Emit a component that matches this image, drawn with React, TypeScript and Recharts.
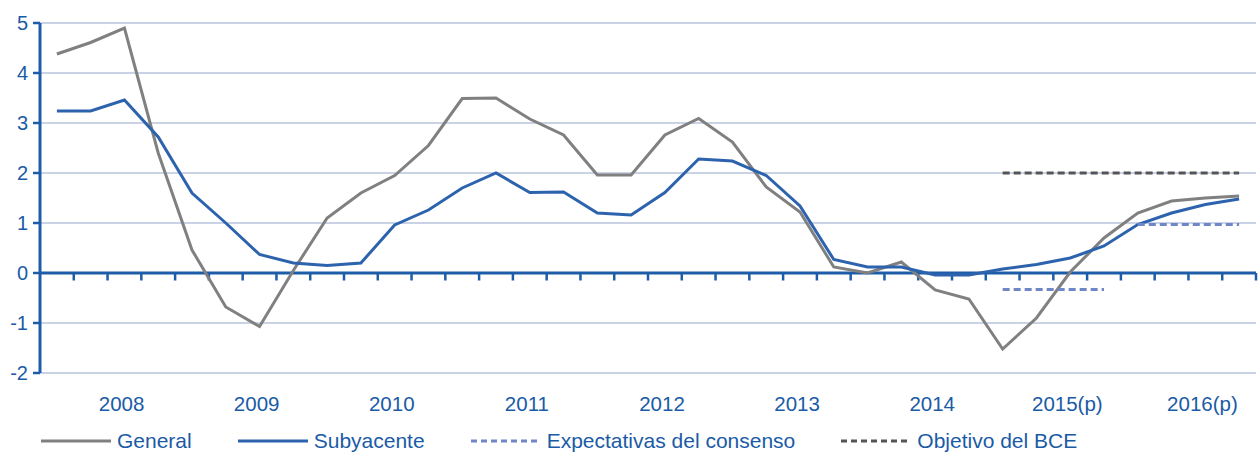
import React from 'react';
import { LineChart, Line, XAxis, YAxis, CartesianGrid, ReferenceLine } from 'recharts';

// Year labels (each year has four quarters)
const years = ['2008', '2009', '2010', '2011', '2012', '2013', '2014', '2015(p)', '2016(p)'];

// Inflación general, quarterly 2008Q1 - 2016Q4
const general = [
  4.38, 4.61, 4.9, 2.4,
  0.46, -0.68, -1.07, 0.05,
  1.1, 1.6, 1.95, 2.55,
  3.49, 3.5, 3.08, 2.76,
  1.96, 1.96, 2.76, 3.09,
  2.62, 1.72, 1.22, 0.12,
  0.0, 0.22, -0.34, -0.52,
  -1.52, -0.9, 0.02, 0.7,
  1.2, 1.44, 1.5, 1.54,
];

// Inflación subyacente
const subyacente = [
  3.24, 3.24, 3.46, 2.72,
  1.6, 1.0, 0.37, 0.2,
  0.15, 0.2, 0.96, 1.26,
  1.7, 2.0, 1.61, 1.62,
  1.2, 1.16, 1.61, 2.28,
  2.24, 1.95, 1.34, 0.27,
  0.12, 0.12, -0.04, -0.04,
  0.08, 0.17, 0.3, 0.54,
  0.97, 1.2, 1.37, 1.48,
];

// Expectativas del consenso (2015 and 2016, drawn as separate segments)
const consenso2015 = [
  null, null, null, null, null, null, null, null, null, null, null, null,
  null, null, null, null, null, null, null, null, null, null, null, null,
  null, null, null, null, -0.33, -0.33, -0.33, -0.33,
  null, null, null, null,
];
const consenso2016 = [
  null, null, null, null, null, null, null, null, null, null, null, null,
  null, null, null, null, null, null, null, null, null, null, null, null,
  null, null, null, null, null, null, null, null,
  0.97, 0.97, 0.97, 0.97,
];
// Objetivo del BCE
const objetivo = [
  null, null, null, null, null, null, null, null, null, null, null, null,
  null, null, null, null, null, null, null, null, null, null, null, null,
  null, null, null, null, 2, 2, 2, 2,
  2, 2, 2, 2,
];

const yTicks = [-2, -1, 0, 1, 2, 3, 4, 5];

const data = general.map((g, i) => ({
  q: i + 0.5,
  general: g,
  subyacente: subyacente[i],
  consenso2015: consenso2015[i],
  consenso2016: consenso2016[i],
  objetivo: objetivo[i],
}));

const quarterBounds = Array.from({ length: general.length }, (_, i) => i + 1);
const yearTicks = years.map((_, k) => k * 4 + 2);

const BLUE = '#1d5ca8';
const TEXT = '#1a5ba6';
const GREY = '#808080';
const LINE_BLUE = '#2d63ad';
const DASH_BLUE = '#6f87c7';
const DASH_GREY = '#555555';
const FONT = '"Liberation Sans", Arial, sans-serif';

const legendItems = [
  { name: 'General', color: GREY, dash: undefined as string | undefined },
  { name: 'Subyacente', color: LINE_BLUE, dash: undefined as string | undefined },
  { name: 'Expectativas del consenso', color: DASH_BLUE, dash: '6 4' },
  { name: 'Objetivo del BCE', color: DASH_GREY, dash: '6 4' },
];

const YearTick = (props: any) => {
  const { x, y, payload } = props;
  const idx = Math.floor(payload.value / 4);
  return (
    <text x={x + 14} y={y} dy="0.71em" textAnchor="middle" fill={TEXT} fontSize={20.5} fontFamily={FONT}>
      {years[idx]}
    </text>
  );
};

export default function App() {
  return (
    <div style={{ position: 'absolute', left: 0, top: 0, width: 1259, height: 453, background: '#fff' }}>
      <LineChart width={1259} height={453} data={data} margin={{ top: 23, right: 3, bottom: 0, left: 0 }}>
        <CartesianGrid vertical={false} stroke="#b9c3de" strokeWidth={1.3} />
        <XAxis
          dataKey="q"
          type="number"
          domain={[0, general.length]}
          ticks={yearTicks}
          interval={0}
          axisLine={false}
          tickLine={false}
          tickSize={0}
          tickMargin={23}
          height={80}
          tick={<YearTick />}
        />
        <YAxis
          domain={[-2, 5]}
          ticks={yTicks}
          interval={0}
          width={40}
          axisLine={{ stroke: BLUE, strokeWidth: 3 }}
          tickLine={{ stroke: BLUE, strokeWidth: 2.5 }}
          tickSize={7}
          tickMargin={5}
          tick={{ fill: TEXT, fontSize: 20, fontFamily: FONT }}
        />
        <ReferenceLine y={0} stroke={BLUE} strokeWidth={3} />
        {quarterBounds.map((b) => (
          <ReferenceLine
            key={b}
            segment={[{ x: b, y: 0 }, { x: b, y: -0.15 }]}
            stroke={BLUE}
            strokeWidth={2.5}
          />
        ))}
        <Line dataKey="general" stroke={GREY} strokeWidth={3} dot={false} isAnimationActive={false} />
        <Line dataKey="subyacente" stroke={LINE_BLUE} strokeWidth={3} dot={false} isAnimationActive={false} />
        <Line dataKey="consenso2015" stroke={DASH_BLUE} strokeWidth={3} strokeDasharray="7 4" dot={false} isAnimationActive={false} />
        <Line dataKey="consenso2016" stroke={DASH_BLUE} strokeWidth={3} strokeDasharray="7 4" dot={false} isAnimationActive={false} />
        <Line dataKey="objetivo" stroke={DASH_GREY} strokeWidth={3} strokeDasharray="7 4" dot={false} isAnimationActive={false} />
      </LineChart>
      <div
        style={{
          position: 'absolute',
          left: 41,
          top: 428,
          display: 'flex',
          alignItems: 'center',
          fontFamily: FONT,
          fontSize: 21,
          lineHeight: '26px',
          color: TEXT,
          whiteSpace: 'nowrap',
        }}
      >
        {legendItems.map((it) => (
          <div key={it.name} style={{ display: 'flex', alignItems: 'center', marginRight: 46 }}>
            <svg width={70} height={6} style={{ marginRight: 6 }}>
              <line x1={0} y1={3} x2={70} y2={3} stroke={it.color} strokeWidth={3} strokeDasharray={it.dash} />
            </svg>
            <span>{it.name}</span>
          </div>
        ))}
      </div>
    </div>
  );
}
